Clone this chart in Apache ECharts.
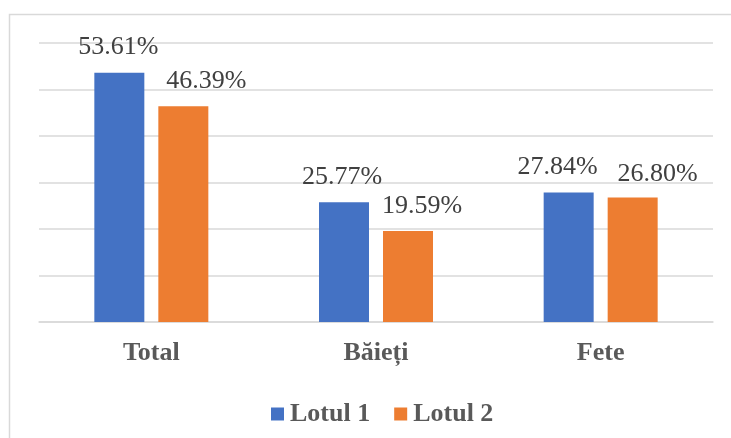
<!DOCTYPE html>
<html>
<head>
<meta charset="utf-8">
<script src="https://cdn.jsdelivr.net/npm/echarts@6/dist/echarts.min.js"></script>
<style>
  html, body { margin: 0; padding: 0; background: #fff; }
  #chart { width: 731px; height: 438px; }
</style>
</head>
<body>
<div id="chart"></div>
<script>
// date
var categories = ['Total', 'Băieți', 'Fete'];
var seriesNames = ['Lotul 1', 'Lotul 2'];
var lotul1 = [53.61, 25.77, 27.84];
var lotul2 = [46.39, 19.59, 26.80];

// etichetele sunt mutate manual in original
var offsets1 = [[-1, -1], [-2, 0], [-11, 0]];
var offsets2 = [[23, 0], [14, 0], [25, 2]];

var myChart = echarts.init(document.getElementById('chart'));

function labelStyle() {
    return {
        show: true,
        position: 'top',
        distance: 12,
        fontFamily: 'Liberation Serif',
        fontSize: 26,
        color: '#404040',
        formatter: function (p) { return p.value.toFixed(2) + '%'; }
    };
}

function withOffsets(values, offs) {
    return values.map(function (v, i) {
        return { value: v, label: { offset: offs[i] } };
    });
}

var option = {
    animation: false,
    backgroundColor: '#fff',
    graphic: [{
        type: 'rect',
        shape: { x: 9.5, y: 14.5, width: 740, height: 440 },
        style: { fill: 'none', stroke: '#d9d9d9', lineWidth: 1.5 }
    }],
    legend: {
        left: 266,
        top: 396,
        itemWidth: 13,
        itemHeight: 13,
        itemGap: 24,
        icon: 'rect',
        textStyle: {
            fontFamily: 'Liberation Serif',
            fontSize: 26,
            fontWeight: 'bold',
            color: '#595959',
            padding: [0, 0, 0, 1]
        },
        data: seriesNames
    },
    grid: { left: 39, right: 18, top: 43, bottom: 116 },
    xAxis: {
        type: 'category',
        data: categories,
        axisLine: { lineStyle: { color: '#d9d9d9', width: 1.5 } },
        axisTick: { show: false },
        axisLabel: {
            margin: 18,
            fontFamily: 'Liberation Serif',
            fontSize: 26,
            fontWeight: 'bold',
            color: '#595959'
        }
    },
    yAxis: {
        type: 'value',
        min: 0,
        max: 60,
        interval: 10,
        axisLabel: { show: false },
        axisLine: { show: false },
        axisTick: { show: false },
        splitLine: { lineStyle: { color: '#d9d9d9', width: 1.5 } }
    },
    series: [{
        name: seriesNames[0],
        type: 'bar',
        data: withOffsets(lotul1, offsets1),
        barWidth: 50,
        barGap: '28%',
        itemStyle: { color: '#4472C4' },
        label: labelStyle()
    }, {
        name: seriesNames[1],
        type: 'bar',
        data: withOffsets(lotul2, offsets2),
        barWidth: 50,
        itemStyle: { color: '#ED7D31' },
        label: labelStyle()
    }]
};

myChart.setOption(option);
</script>
</body>
</html>
